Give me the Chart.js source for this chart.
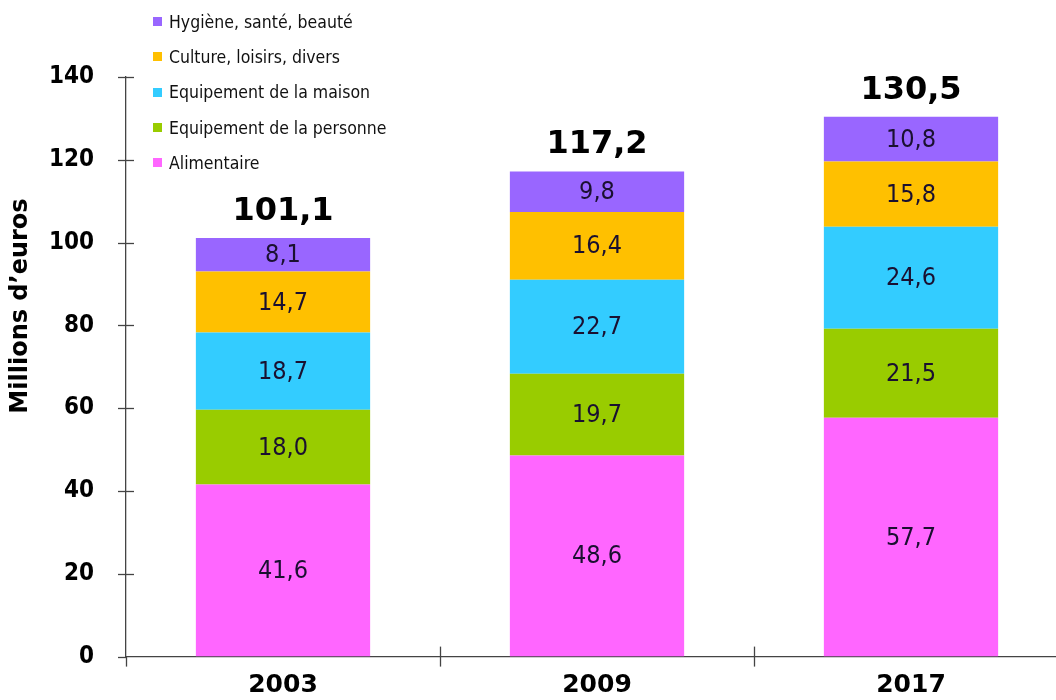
<!DOCTYPE html>
<html>
<head>
<meta charset="utf-8">
<script src="https://cdn.jsdelivr.net/npm/chart.js@4/dist/chart.umd.min.js"></script>
<style>
  html, body { margin: 0; padding: 0; background: #fff; overflow: hidden; }
  #wrap { position: relative; width: 1068px; height: 700px; overflow: hidden; }
  #chart { display: block; }
  #legend { position: absolute; left: 153px; top: 4px; font-family: "DejaVu Sans Condensed", "DejaVu Sans", sans-serif; font-size: 17.5px; color: #111; }
  #legend div { height: 35.3px; display: flex; align-items: center; white-space: nowrap; }
  #legend span.box { display: inline-block; width: 9px; height: 9px; margin-right: 7px; }
</style>
</head>
<body>
<div id="wrap">
  <canvas id="chart" width="1068" height="703"></canvas>
  <div id="legend"></div>
</div>
<script>
const years = ["2003", "2009", "2017"];
const alimentaire = [41.6, 48.6, 57.7];
const equipPersonne = [18.0, 19.7, 21.5];
const equipMaison = [18.7, 22.7, 24.6];
const culture = [14.7, 16.4, 15.8];
const hygiene = [8.1, 9.8, 10.8];
const totals = [101.1, 117.2, 130.5];
const yTicks = [0, 20, 40, 60, 80, 100, 120, 140];

const seriesNames = ["Alimentaire", "Equipement de la personne", "Equipement de la maison", "Culture, loisirs, divers", "Hygiène, santé, beauté"];
const seriesColors = ["#ff66ff", "#99cc00", "#33ccff", "#ffc000", "#9966ff"];
const seriesValues = [alimentaire, equipPersonne, equipMaison, culture, hygiene];

function fmt(v) {
  return v.toFixed(1).replace(".", ",");
}

// value labels in segments + totals above bars
const labelsPlugin = {
  id: "labels",
  afterDatasetsDraw(chart) {
    const ctx = chart.ctx;
    ctx.save();
    ctx.textAlign = "center";
    ctx.textBaseline = "middle";
    ctx.fillStyle = "#1a1030";
    ctx.font = "25px 'DejaVu Sans Condensed'";
    chart.data.datasets.forEach((ds, i) => {
      chart.getDatasetMeta(i).data.forEach((bar, j) => {
        const mid = (bar.y + bar.base) / 2;
        ctx.fillText(fmt(ds.data[j]), bar.x, mid + 1);
      });
    });
    const top = chart.getDatasetMeta(chart.data.datasets.length - 1).data;
    ctx.fillStyle = "#000";
    ctx.font = "bold 32px 'DejaVu Sans'";
    ctx.textBaseline = "alphabetic";
    totals.forEach((t, j) => {
      ctx.fillText(fmt(t), top[j].x, top[j].y - 18);
    });
    ctx.restore();
  }
};

// crossing tick marks and rotated axis title
const axisPlugin = {
  id: "axisMarks",
  afterDraw(chart) {
    const ctx = chart.ctx;
    const x = chart.scales.x, y = chart.scales.y;
    const area = chart.chartArea;
    ctx.save();
    ctx.strokeStyle = "#444";
    ctx.lineWidth = 1.3;
    yTicks.forEach(v => {
      const py = Math.round(y.getPixelForValue(v)) + 0.5;
      ctx.beginPath();
      ctx.moveTo(area.left - 8, py);
      ctx.lineTo(area.left + (v === 0 ? 0 : 8), py);
      ctx.stroke();
    });
    const step = x.getPixelForValue(1) - x.getPixelForValue(0);
    years.forEach((_, i) => {
      const px = Math.round(x.getPixelForValue(i) - step / 2) + 0.5;
      ctx.beginPath();
      ctx.moveTo(px, area.bottom - (i === 0 ? 0 : 10));
      ctx.lineTo(px, area.bottom + 10);
      ctx.stroke();
    });
    ctx.fillStyle = "#000";
    ctx.font = "bold 24px 'DejaVu Sans'";
    ctx.textAlign = "center";
    ctx.textBaseline = "middle";
    ctx.translate(21, 306);
    ctx.rotate(-Math.PI / 2);
    ctx.fillText("Millions d\u2019euros", 0, 0);
    ctx.restore();
  }
};

const datasets = seriesNames.map((name, i) => ({
  label: name,
  data: seriesValues[i],
  backgroundColor: seriesColors[i],
  borderWidth: 0,
  categoryPercentage: 0.555,
  barPercentage: 1.0
}));

new Chart(document.getElementById("chart"), {
  type: "bar",
  data: { labels: years, datasets },
  options: {
    responsive: false,
    animation: false,
    layout: { padding: { top: 77, left: 0, right: 0, bottom: 0 } },
    plugins: { legend: { display: false }, tooltip: { enabled: false } },
    scales: {
      x: {
        stacked: true,
        grid: { display: false, drawTicks: false },
        border: { display: true, color: "#444", width: 1.3 },
        ticks: { color: "#000", font: { family: "'DejaVu Sans'", weight: "bold", size: 25 }, padding: 14 },
        afterFit: (s) => { s.height = 38; }
      },
      y: {
        stacked: true,
        min: 0,
        max: 140,
        afterBuildTicks: (s) => { s.ticks = yTicks.map(v => ({ value: v })); },
        grid: { display: false, drawTicks: false },
        border: { display: true, color: "#444", width: 1.3 },
        ticks: { color: "#000", font: { family: "'DejaVu Sans Condensed'", weight: "bold", size: 24 }, padding: 32 },
        afterFit: (s) => { s.width = 126; }
      }
    }
  },
  plugins: [labelsPlugin, axisPlugin]
});

// legend, top item = last dataset
const legend = document.getElementById("legend");
for (let i = seriesNames.length - 1; i >= 0; i--) {
  const row = document.createElement("div");
  const box = document.createElement("span");
  box.className = "box";
  box.style.background = seriesColors[i];
  row.appendChild(box);
  row.appendChild(document.createTextNode(seriesNames[i]));
  legend.appendChild(row);
}
</script>
</body>
</html>
